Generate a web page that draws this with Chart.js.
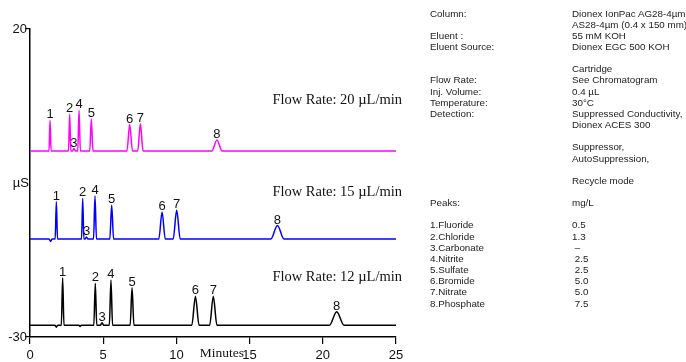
<!DOCTYPE html>
<html>
<head>
<meta charset="utf-8">
<script src="https://cdn.jsdelivr.net/npm/chart.js@4/dist/chart.umd.min.js"></script>
<style>
  body { margin: 0; background: #fff; overflow: hidden; }
  #wrap { position: relative; width: 686px; height: 362px; overflow: hidden; }
  .info {
    position: absolute; top: 7.5px; margin: 0;
    font: 9.8px "Liberation Sans", Arial, sans-serif;
    line-height: 11.15px; color: #222; white-space: pre;
  }
</style>
</head>
<body>
<div id="wrap">
  <canvas id="chart"></canvas>
  <pre class="info" style="left:430px">Column:

Eluent :
Eluent Source:


Flow Rate:
Inj. Volume:
Temperature:
Detection:







Peaks:

1.Fluoride
2.Chloride
3.Carbonate
4.Nitrite
5.Sulfate
6.Bromide
7.Nitrate
8.Phosphate</pre>
  <pre class="info" style="left:572px">Dionex IonPac AG28-4µm
AS28-4µm (0.4 x 150 mm)
55 mM KOH
Dionex EGC 500 KOH

Cartridge
See Chromatogram
0.4 µL
30°C
Suppressed Conductivity,
Dionex ACES 300

Suppressor,
AutoSuppression,

Recycle mode

mg/L

0.5
1.3
 –
 2.5
 2.5
 5.0
 5.0
 7.5</pre>
</div>
<script>
// Chromatograms (minutes vs µS), one trace per flow rate
const time20 = [0, 1.30, 1.37, 1.44, 2.63, 2.71, 2.79, 2.90, 3.00, 3.10, 3.26, 3.35, 3.44,
  4.08, 4.19, 4.30, 6.62, 6.81, 7.00, 7.36, 7.54, 7.72, 12.42, 12.77, 13.12, 25];
const signal20 = [0.2, 0.2, 5.2, 0.2, 0.2, 6.15, 0.2, 0.2, 0.6, 0.2, 0.2, 6.8, 0.2,
  0.2, 5.4, 0.2, 0.2, 4.5, 0.2, 0.2, 4.6, 0.2, 0.2, 2.0, 0.2, 0.2];

const time15 = [0, 1.30, 1.41, 1.50, 1.72, 1.80, 1.88, 3.52, 3.60, 3.68, 3.76, 3.86, 3.96,
  4.34, 4.44, 4.54, 5.45, 5.58, 5.71, 8.80, 9.02, 9.24, 9.78, 10.02, 10.26,
  16.45, 16.90, 17.35, 25];
const signal15 = [-14.1, -14.1, -14.5, -14.1, -14.1, -8.05, -14.1, -14.1, -7.5, -14.1, -14.1, -13.75, -14.1,
  -14.1, -7.1, -14.1, -14.1, -8.6, -14.1, -14.1, -9.7, -14.1, -14.1, -9.4, -14.1,
  -14.1, -11.9, -14.1, -14.1];

const time12 = [0, 1.70, 1.80, 1.90, 2.14, 2.23, 2.32, 3.35, 3.42, 3.50, 4.36, 4.46, 4.56,
  4.80, 4.92, 5.04, 5.42, 5.53, 5.64, 6.84, 6.97, 7.10, 11.05, 11.30, 11.55,
  12.27, 12.52, 12.77, 20.45, 20.95, 21.45, 25];
const signal12 = [-28.1, -28.1, -28.4, -28.1, -28.1, -20.4, -28.1, -28.1, -28.3, -28.1, -28.1, -21.3, -28.1,
  -28.1, -27.7, -28.1, -28.1, -20.8, -28.1, -28.1, -22.0, -28.1, -28.1, -23.4, -28.1,
  -28.1, -23.4, -28.1, -28.1, -25.9, -28.1, -28.1];

const flowLabels = ['Flow Rate: 20 µL/min', 'Flow Rate: 15 µL/min', 'Flow Rate: 12 µL/min'];
const flowLabelY = [8.47, -6.57, -20.37];
const yTicks = [-30, 20];

function points(t, s) {
  return t.map((x, i) => ({ x: x, y: s[i] }));
}

function trace(t, s, color) {
  return {
    data: points(t, s),
    borderColor: color,
    borderWidth: 1.5,
    pointRadius: 0,
    cubicInterpolationMode: 'monotone',
    fill: false
  };
}

// peak numbers, flow rate captions and axis words
const labelsPlugin = {
  id: 'labels',
  afterDatasetsDraw(chart) {
    const ctx = chart.ctx;
    const xs = chart.scales.x;
    const ys = chart.scales.y;
    ctx.save();
    ctx.fillStyle = '#111';
    ctx.font = '13px "Liberation Sans", Arial, sans-serif';
    ctx.textAlign = 'center';
    ctx.textBaseline = 'bottom';
    chart.data.datasets.forEach(ds => {
      let n = 0;
      ds.data.forEach((p, i) => {
        const prev = ds.data[i - 1], next = ds.data[i + 1];
        if (prev && next && p.y > prev.y && p.y > next.y) {
          n++;
          ctx.fillText(String(n), xs.getPixelForValue(p.x), ys.getPixelForValue(p.y) + 1);
        }
      });
    });

    ctx.font = '14.5px "Liberation Serif", "Times New Roman", serif';
    ctx.textAlign = 'right';
    ctx.textBaseline = 'middle';
    flowLabels.forEach((txt, i) => {
      ctx.fillText(txt, xs.getPixelForValue(25) + 6, ys.getPixelForValue(flowLabelY[i]));
    });

    ctx.font = '13.5px "Liberation Serif", "Times New Roman", serif';
    ctx.textAlign = 'left';
    ctx.fillText('Minutes', xs.getPixelForValue(11.6), chart.chartArea.bottom + 16);

    ctx.font = '13px "Liberation Sans", Arial, sans-serif';
    ctx.textAlign = 'right';
    ctx.fillText('µS', xs.left - 1, ys.getPixelForValue(-5));
    ctx.restore();
  }
};

const chromConfig = {
  type: 'line',
  data: {
    datasets: [
      trace(time20, signal20, '#ff00ff'),
      trace(time15, signal15, '#0000ff'),
      trace(time12, signal12, '#000000')
    ]
  },
  options: {
    responsive: true,
    maintainAspectRatio: false,
    animation: false,
    layout: { padding: { top: 29, right: 290, left: 0, bottom: 0 } },
    plugins: {
      legend: { display: false },
      tooltip: { enabled: false }
    },
    scales: {
      x: {
        type: 'linear',
        min: 0,
        max: 25,
        afterFit: s => { s.height = 25; },
        ticks: {
          stepSize: 5,
          color: '#111',
          padding: 4,
          maxRotation: 0,
          font: { family: '"Liberation Sans", Arial, sans-serif', size: 13 }
        },
        grid: { drawOnChartArea: false, tickLength: 7, color: '#000', lineWidth: 1.2 },
        border: { color: '#000', width: 1.5 }
      },
      y: {
        type: 'linear',
        min: -30,
        max: 20,
        afterFit: s => { s.width = 30; },
        afterBuildTicks: s => { s.ticks = yTicks.map(v => ({ value: v })); },
        ticks: {
          color: '#111',
          padding: -2,
          font: { family: '"Liberation Sans", Arial, sans-serif', size: 13 }
        },
        grid: { drawOnChartArea: false, tickLength: 5, color: '#000', lineWidth: 1.2 },
        border: { color: '#000', width: 1.5 }
      }
    }
  },
  plugins: [labelsPlugin]
};

const chromChart = new Chart(document.getElementById('chart'), chromConfig);
</script>
</body>
</html>
